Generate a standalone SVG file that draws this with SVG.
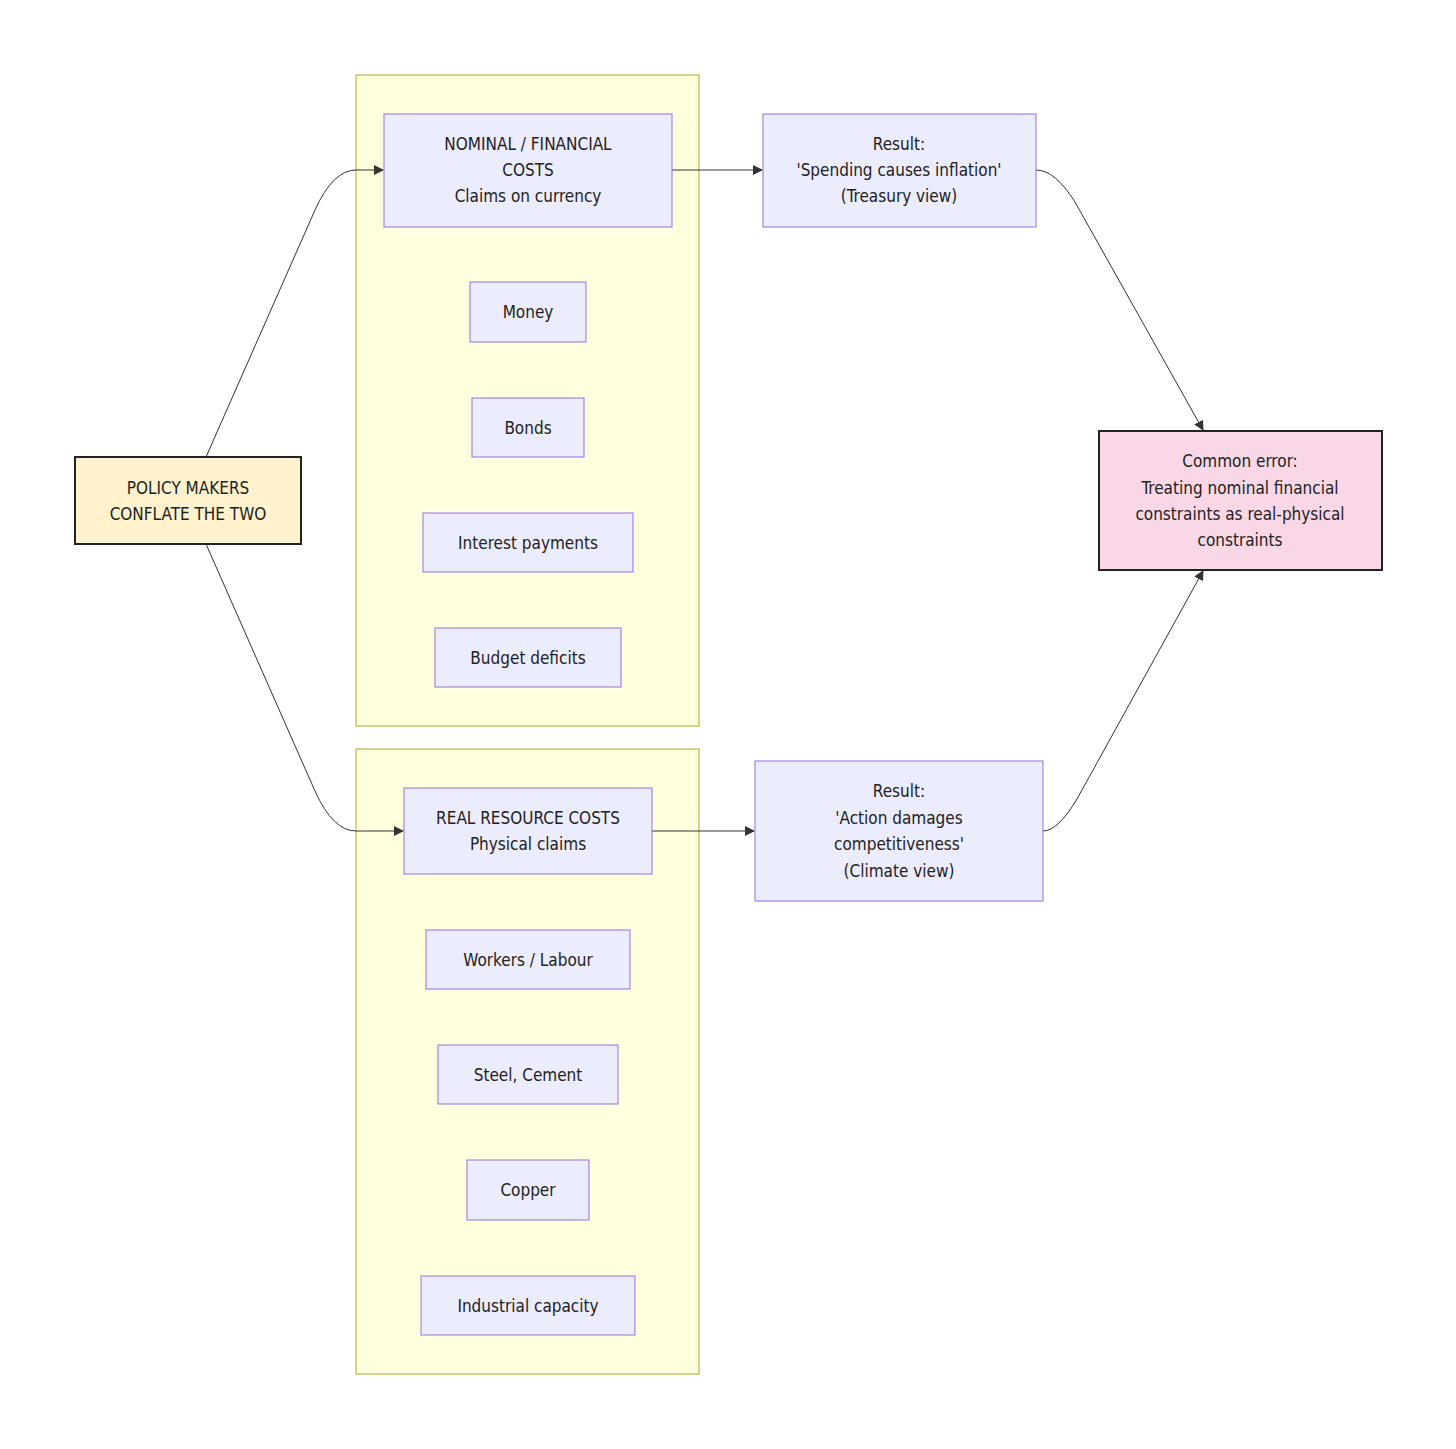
<svg xmlns="http://www.w3.org/2000/svg" width="1456" height="1449" viewBox="0 0 1456 1449">
<defs>
<style>
.cl{fill:#ffffde;stroke:#aaaa33;stroke-width:1}
.n{fill:#ececff;stroke:#9370db;stroke-width:1}
.k{fill:#fff2cc;stroke:#222;stroke-width:2}
.e{fill:#f9d7e7;stroke:#222;stroke-width:2}
text{font-family:"DejaVu Sans Condensed","Liberation Sans",Arial,sans-serif;font-size:17px;fill:#222;text-anchor:middle;dominant-baseline:central}
.c{fill:none;stroke:#333;stroke-width:1}
</style>
<marker id="ah" viewBox="0 0 10 10" refX="9" refY="5" markerWidth="10" markerHeight="10" markerUnits="userSpaceOnUse" orient="auto">
<path d="M0,0 L10,5 L0,10 z" fill="#333"/>
</marker>
</defs>
<rect width="1456" height="1449" fill="#fff"/>
<g id="cluster-nominal"><rect class="cl" x="356" y="75" width="343" height="651"/></g>
<g id="cluster-real"><rect class="cl" x="356" y="749" width="343" height="625"/></g>
<g id="connectors">
<path class="c" d="M206,457 L315,210 Q333,170 356,170 L383,170" marker-end="url(#ah)"/>
<path class="c" d="M206,544 L315,791 Q333,831 356,831 L403,831" marker-end="url(#ah)"/>
<path class="c" d="M672,170 L762,170" marker-end="url(#ah)"/>
<path class="c" d="M652,831 L754,831" marker-end="url(#ah)"/>
<path class="c" d="M1036,170 Q1055,170 1075,202 L1203,430" marker-end="url(#ah)"/>
<path class="c" d="M1043,831 Q1058,831 1077,799 L1203,571" marker-end="url(#ah)"/>
</g>
<g id="policy"><rect class="k" x="75" y="457" width="226" height="87"/><text x="188" y="488">POLICY MAKERS</text><text x="188" y="514">CONFLATE THE TWO</text></g>
<g id="nominal"><rect class="n" x="384" y="114" width="288" height="113"/><text x="528" y="144">NOMINAL / FINANCIAL</text><text x="528" y="170">COSTS</text><text x="528" y="196">Claims on currency</text></g>
<g id="money"><rect class="n" x="470" y="282" width="116" height="60"/><text x="528" y="312">Money</text></g>
<g id="bonds"><rect class="n" x="472" y="398" width="112" height="59"/><text x="528" y="428">Bonds</text></g>
<g id="interest"><rect class="n" x="423" y="513" width="210" height="59"/><text x="528" y="543">Interest payments</text></g>
<g id="deficits"><rect class="n" x="435" y="628" width="186" height="59"/><text x="528" y="658">Budget deficits</text></g>
<g id="result1"><rect class="n" x="763" y="114" width="273" height="113"/><text x="899" y="144">Result:</text><text x="899" y="170">'Spending causes inflation'</text><text x="899" y="196">(Treasury view)</text></g>
<g id="error"><rect class="e" x="1099" y="431" width="283" height="139"/><text x="1240" y="461">Common error:</text><text x="1240" y="488">Treating nominal financial</text><text x="1240" y="514">constraints as real-physical</text><text x="1240" y="540">constraints</text></g>
<g id="real"><rect class="n" x="404" y="788" width="248" height="86"/><text x="528" y="818">REAL RESOURCE COSTS</text><text x="528" y="844">Physical claims</text></g>
<g id="workers"><rect class="n" x="426" y="930" width="204" height="59"/><text x="528" y="960">Workers / Labour</text></g>
<g id="steel"><rect class="n" x="438" y="1045" width="180" height="59"/><text x="528" y="1075">Steel, Cement</text></g>
<g id="copper"><rect class="n" x="467" y="1160" width="122" height="60"/><text x="528" y="1190">Copper</text></g>
<g id="industrial"><rect class="n" x="421" y="1276" width="214" height="59"/><text x="528" y="1306">Industrial capacity</text></g>
<g id="result2"><rect class="n" x="755" y="761" width="288" height="140"/><text x="899" y="791">Result:</text><text x="899" y="818">'Action damages</text><text x="899" y="844">competitiveness'</text><text x="899" y="871">(Climate view)</text></g>
</svg>
